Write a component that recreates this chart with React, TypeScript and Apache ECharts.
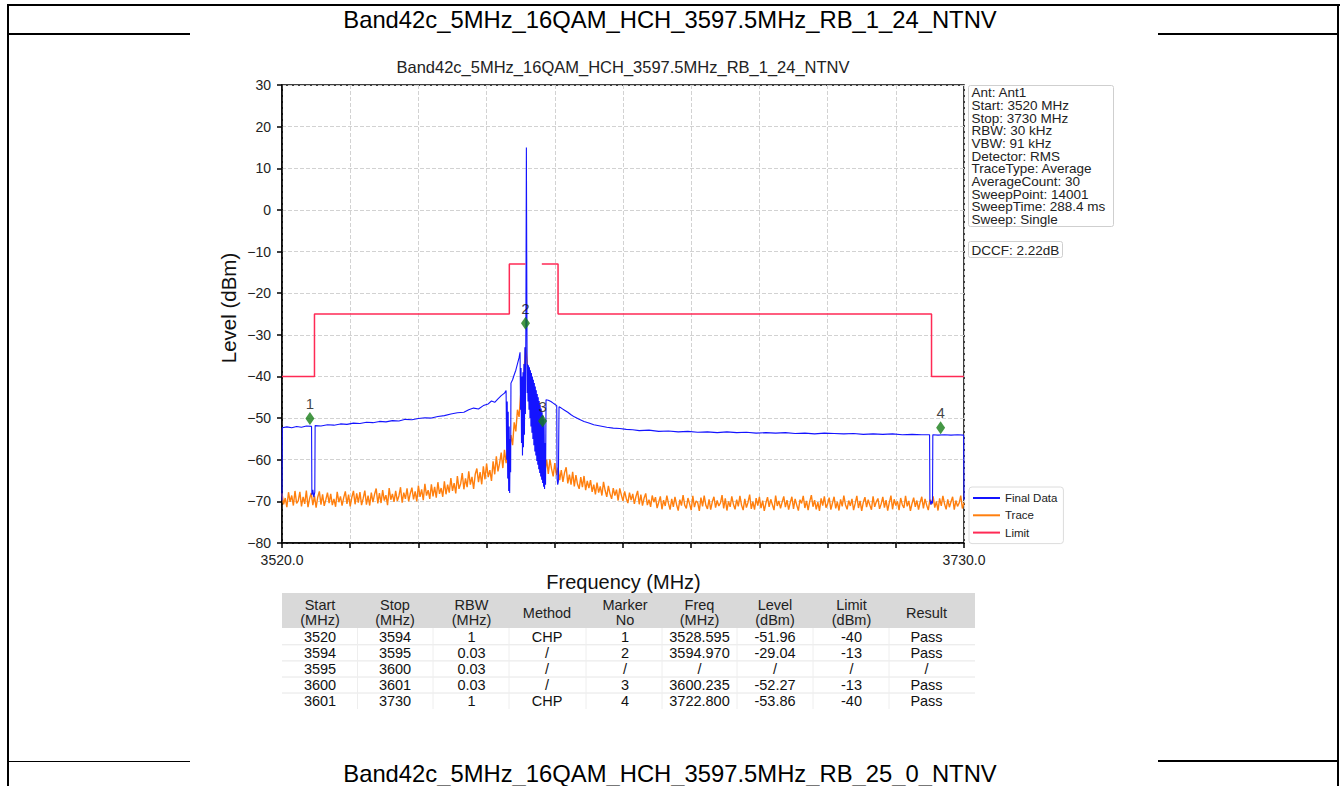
import React, { useEffect, useRef } from "react";
import * as echarts from "echarts";

const FONT = '"Liberation Sans", Arial, Helvetica, sans-serif';

// ---------- texts ----------
const pageTitle = "Band42c_5MHz_16QAM_HCH_3597.5MHz_RB_1_24_NTNV";
const nextTitle = "Band42c_5MHz_16QAM_HCH_3597.5MHz_RB_25_0_NTNV";
const chartTitle = "Band42c_5MHz_16QAM_HCH_3597.5MHz_RB_1_24_NTNV";
const yAxisName = "Level (dBm)";
const xAxisName = "Frequency (MHz)";
const infoLines = [
  "Ant: Ant1",
  "Start: 3520 MHz",
  "Stop: 3730 MHz",
  "RBW: 30 kHz",
  "VBW: 91 kHz",
  "Detector: RMS",
  "TraceType: Average",
  "AverageCount: 30",
  "SweepPoint: 14001",
  "SweepTime: 288.4 ms",
  "Sweep: Single",
];
const dccfText = "DCCF: 2.22dB";
const seriesNames = ["Final Data", "Trace", "Limit"];

// ---------- axes ----------
const yMin = -80;
const yMax = 30;
const yStep = 10;
const fStart = 3520;
const fStop = 3730;
const xTickLabels = ["3520.0", "", "", "", "", "", "", "", "", "", "3730.0"];

// ---------- trace (orange), 0.5 MHz spacing from 3520 ----------
const traceStart = 3520;
const traceStep = 0.5;
const traceLevel = [
  -68.1, -70.7, -69.2, -71.4, -67.8, -70.1, -68.6, -71.0, -67.5, -70.5,
  -69.9, -67.7, -71.2, -68.9, -70.6, -67.4, -71.4, -69.3, -68.0, -70.9,
  -68.7, -71.5, -69.0, -67.6, -70.8, -68.3, -71.1, -69.6, -67.9, -70.4,
  -68.2, -70.9, -69.4, -71.3, -67.7, -70.2, -68.8, -71.0, -69.1, -67.6,
  -70.6, -68.4, -71.2, -69.0, -67.5, -70.7, -68.1, -70.3, -67.8, -70.9,
  -69.3, -67.4, -70.8, -68.6, -71.0, -67.9, -70.2, -68.3, -66.9, -70.5,
  -68.0, -70.4, -67.3, -69.8, -68.5, -70.9, -66.8, -69.6, -68.2, -70.1,
  -67.5, -69.9, -68.7, -66.6, -70.3, -67.9, -69.4, -66.9, -70.0, -68.1,
  -66.7, -69.5, -67.6, -70.0, -66.2, -68.9, -67.1, -69.7, -65.8, -68.6,
  -67.3, -69.4, -65.9, -68.8, -66.5, -69.1, -65.4, -68.2, -66.8, -68.9,
  -65.2, -68.3, -66.0, -67.9, -64.4, -67.5, -65.6, -68.1, -63.9, -67.0,
  -65.8, -63.2, -67.1, -64.5, -66.6, -62.8, -66.0, -64.1, -67.0, -63.5,
  -62.1, -65.4, -63.0, -65.9, -61.6, -64.7, -60.9, -64.2, -62.5, -65.1,
  -60.4, -63.5, -59.2, -62.8, -60.9, -58.3, -62.0, -57.6, -60.8, -56.9,
  -58.6, -54.1, -56.5, -51.0, -53.2, -48.0, -49.7, -44.3, -45.5, -39.0,
  -33.0, -36.5, -43.5, -46.0, -51.5, -50.0, -55.8, -54.2, -58.9, -57.0,
  -61.3, -58.7, -62.6, -60.0, -63.4, -59.9, -62.2, -64.0, -60.8, -63.7,
  -61.9, -64.9, -62.5, -65.3, -63.1, -61.8, -65.7, -63.6, -66.0, -62.9,
  -66.4, -63.7, -65.9, -67.0, -64.2, -66.6, -63.9, -67.3, -65.1, -66.8,
  -64.9, -67.7, -66.0, -68.3, -65.5, -67.9, -66.4, -68.6, -65.3, -67.4,
  -68.9, -66.3, -68.2, -69.4, -66.8, -68.6, -67.2, -69.8, -66.9, -68.5,
  -69.9, -67.6, -69.3, -70.4, -67.9, -69.7, -68.2, -70.6, -68.8, -67.5,
  -70.7, -68.4, -71.0, -69.2, -68.1, -70.9, -69.6, -71.3, -68.6, -70.2,
  -69.0, -71.6, -70.2, -68.8, -71.9, -69.7, -71.1, -68.6, -70.5, -72.0,
  -69.4, -71.3, -68.9, -70.8, -72.2, -69.6, -71.0, -68.5, -70.9, -71.7,
  -69.2, -70.6, -72.1, -68.7, -71.4, -69.9, -70.3, -72.3, -69.1, -71.2,
  -68.6, -70.9, -71.8, -69.5, -72.0, -70.1, -68.9, -71.5, -69.8, -71.1,
  -70.4, -68.5, -71.7, -69.3, -72.2, -70.0, -71.3, -68.8, -70.7, -71.9,
  -69.6, -71.2, -68.7, -70.9, -72.1, -69.4, -71.5, -70.2, -68.4, -71.8,
  -70.1, -72.0, -69.2, -71.0, -68.9, -71.6, -69.8, -72.3, -70.4, -69.0,
  -71.3, -69.5, -70.8, -72.1, -68.6, -71.1, -69.9, -71.7, -70.2, -68.8,
  -71.4, -69.7, -72.0, -70.3, -68.9, -71.8, -69.4, -70.9, -72.2, -69.6,
  -70.5, -68.7, -71.6, -69.9, -72.1, -70.0, -68.5, -71.3, -69.7, -71.9,
  -70.2, -72.3, -69.3, -71.0, -68.8, -71.5, -70.6, -69.1, -72.0, -70.4,
  -68.9, -71.7, -70.1, -72.2, -69.5, -71.2, -68.6, -70.8, -71.9, -69.8,
  -71.1, -69.4, -72.1, -70.5, -68.7, -71.6, -69.9, -72.3, -70.2, -69.0,
  -71.4, -69.6, -70.9, -72.0, -68.8, -71.3, -70.1, -69.3, -71.8, -70.6,
  -68.9, -71.5, -69.7, -72.2, -70.3, -68.6, -71.9, -69.5, -71.0, -70.0,
  -72.1, -69.2, -70.8, -71.6, -68.7, -71.2, -69.9, -72.3, -70.5, -69.1,
  -71.3, -69.8, -72.0, -70.2, -68.9, -71.7, -69.4, -70.9, -72.1, -69.6,
  -70.7, -68.8, -71.5, -70.0, -72.2, -69.3, -71.1, -68.7, -70.6, -71.9,
  -69.5, -71.4, -70.1, -68.9, -72.0, -69.8, -71.2, -70.4, -68.6, -71.7,
  -70.3,
];

// ---------- final data (blue): [MHz, dBm] ----------
const finalData: [number, number][] = [
  [3520.0, -69.8], [3520.1, -52.3], [3521.5, -52.1], [3523.0, -52.3], [3524.5, -52.0],
  [3526.0, -52.2], [3527.5, -51.9], [3529.1, -52.0], [3529.2, -68.5], [3529.5, -67.2],
  [3529.8, -69.0], [3530.1, -67.8], [3530.2, -51.8], [3532.0, -51.9], [3534.0, -51.6],
  [3536.0, -51.7], [3538.0, -51.4], [3540.0, -51.5], [3542.0, -51.2], [3544.0, -51.3],
  [3546.0, -51.0], [3548.0, -51.1], [3550.0, -50.8], [3552.0, -50.9], [3554.0, -50.6],
  [3556.0, -50.7], [3558.0, -50.3], [3560.0, -50.4], [3562.0, -50.1], [3564.0, -49.9],
  [3566.0, -50.0], [3568.0, -49.6], [3570.0, -49.4], [3572.0, -49.0], [3574.0, -48.7],
  [3576.0, -48.6], [3577.5, -48.0], [3579.0, -47.6], [3580.5, -47.8], [3582.0, -47.0],
  [3583.5, -46.6], [3584.5, -45.9], [3585.5, -46.2], [3586.5, -45.4], [3587.5, -44.6],
  [3588.5, -44.0], [3589.0, -43.4],
  [3589.2, -60.0], [3589.35, -46.0], [3589.5, -64.5], [3589.65, -48.5], [3589.8, -67.5],
  [3589.95, -52.0], [3590.1, -68.0], [3590.25, -55.0], [3590.4, -63.0], [3590.5, -41.6],
  [3591.0, -40.8], [3591.5, -39.6], [3592.0, -38.5], [3592.5, -37.0], [3593.0, -35.5],
  [3593.3, -34.2], [3593.45, -48.0], [3593.6, -38.0], [3593.75, -56.0], [3593.9, -40.0],
  [3594.05, -59.0], [3594.2, -39.0], [3594.35, -57.0], [3594.5, -37.0], [3594.65, -54.0],
  [3594.8, -33.0], [3594.95, -49.0], [3595.1, -27.0], [3595.25, 15.0], [3595.4, -22.0],
  [3595.5, -44.0],
  [3595.6, -37.0], [3595.75, -46.0], [3595.9, -37.3], [3596.05, -48.0], [3596.2, -37.8],
  [3596.35, -50.0], [3596.5, -38.5], [3596.65, -52.0], [3596.8, -39.2], [3596.95, -53.5],
  [3597.1, -40.0], [3597.25, -55.0], [3597.4, -40.8], [3597.55, -56.5], [3597.7, -41.6],
  [3597.85, -58.0], [3598.0, -42.4], [3598.15, -59.0], [3598.3, -43.3], [3598.45, -60.3],
  [3598.6, -44.2], [3598.75, -61.2], [3598.9, -45.0], [3599.05, -62.3], [3599.2, -45.9],
  [3599.35, -63.2], [3599.5, -46.8], [3599.65, -64.0], [3599.8, -47.7], [3599.95, -64.8],
  [3600.1, -48.6], [3600.25, -65.6], [3600.4, -49.4], [3600.55, -66.5], [3600.7, -50.2],
  [3600.85, -67.0], [3601.0, -56.0], [3601.15, -66.0], [3601.3, -45.6],
  [3602.0, -45.7], [3602.8, -46.0], [3603.5, -46.4], [3604.2, -46.8], [3604.6, -47.0],
  [3604.7, -64.5], [3604.9, -66.0], [3605.1, -65.2], [3605.3, -47.3], [3606.0, -47.6],
  [3607.0, -48.1], [3608.0, -48.6], [3609.0, -49.2], [3610.0, -49.7], [3611.5, -50.3],
  [3613.0, -50.8], [3614.5, -51.2], [3616.0, -51.6], [3618.0, -51.9], [3620.0, -52.2],
  [3622.0, -52.4], [3624.0, -52.5], [3626.0, -52.7], [3628.0, -52.8], [3630.0, -53.0],
  [3633.0, -52.9], [3636.0, -53.2], [3639.0, -53.1], [3642.0, -53.3], [3645.0, -53.2],
  [3648.0, -53.4], [3651.0, -53.3], [3654.0, -53.5], [3657.0, -53.3], [3660.0, -53.5],
  [3663.0, -53.4], [3666.0, -53.6], [3669.0, -53.5], [3672.0, -53.6], [3675.0, -53.5],
  [3678.0, -53.7], [3681.0, -53.6], [3684.0, -53.8], [3687.0, -53.6], [3690.0, -53.7],
  [3693.0, -53.8], [3696.0, -53.7], [3699.0, -53.9], [3702.0, -53.8], [3705.0, -53.9],
  [3708.0, -53.8], [3711.0, -54.0], [3714.0, -53.9], [3717.0, -54.0], [3719.4, -54.0],
  [3719.5, -69.5], [3719.8, -70.8], [3720.1, -69.9], [3720.3, -70.5], [3720.4, -54.0],
  [3722.0, -54.1], [3724.0, -54.0], [3726.0, -54.1], [3728.0, -54.0], [3729.9, -54.1],
  [3730.0, -69.7],
];

// ---------- limit (red) ----------
const limitFreq = [3520, 3530, 3530, 3590, 3590, 3595, 3597.5, 3600, 3605, 3605, 3720, 3720, 3730];
const limitLevel: (number | null)[] = [-40, -40, -25, -25, -13, -13, null, -13, -13, -25, -25, -40, -40];

// ---------- markers ----------
const markerNo = ["1", "2", "3", "4"];
const markerFreq = [3528.595, 3594.97, 3600.235, 3722.8];
const markerLevel = [-50.1, -27.2, -50.7, -52.3];

// ---------- result table ----------
const tableHeader = ["Start\n(MHz)", "Stop\n(MHz)", "RBW\n(MHz)", "Method", "Marker\nNo", "Freq\n(MHz)", "Level\n(dBm)", "Limit\n(dBm)", "Result"];
const colStart = ["3520", "3594", "3595", "3600", "3601"];
const colStop = ["3594", "3595", "3600", "3601", "3730"];
const colRBW = ["1", "0.03", "0.03", "0.03", "1"];
const colMethod = ["CHP", "/", "/", "/", "CHP"];
const colMarker = ["1", "2", "/", "3", "4"];
const colFreq = ["3528.595", "3594.970", "/", "3600.235", "3722.800"];
const colLevel = ["-51.96", "-29.04", "/", "-52.27", "-53.86"];
const colLimit = ["-40", "-13", "/", "-13", "-40"];
const colResult = ["Pass", "Pass", "/", "Pass", "Pass"];

// document frame segments drawn as page rules: [left, top, width, height]
const frameRules: [number, number, number, number][] = [
  [7, 4, 1333, 2],
  [7, 4, 2, 782],
  [1337, 4, 2, 782],
  [7, 32.5, 183, 2],
  [1158, 32.5, 181, 2],
  [7, 760.5, 183, 1.2],
  [1158, 760, 181, 2],
];

function buildGraphics() {
  const g: any[] = [];

  g.push({ type: "text", silent: true, x: 670, y: 19, style: { text: pageTitle, font: `23.8px ${FONT}`, fill: "#000", textAlign: "center", textVerticalAlign: "middle" } });
  g.push({ type: "text", silent: true, x: 670, y: 773, style: { text: nextTitle, font: `23.8px ${FONT}`, fill: "#000", textAlign: "center", textVerticalAlign: "middle" } });

  // chart title & axis names
  g.push({ type: "text", silent: true, x: 623, y: 67, style: { text: chartTitle, font: `16.5px ${FONT}`, fill: "#222", textAlign: "center", textVerticalAlign: "middle" } });
  g.push({ type: "text", silent: true, x: 623.5, y: 582, style: { text: xAxisName, font: `20px ${FONT}`, fill: "#111", textAlign: "center", textVerticalAlign: "middle" } });
  g.push({ type: "text", silent: true, x: 228, y: 308, rotation: Math.PI / 2, style: { text: yAxisName, font: `20.5px ${FONT}`, fill: "#111", textAlign: "center", textVerticalAlign: "middle" } });

  // info box
  g.push({ type: "rect", silent: true, shape: { x: 968.5, y: 85.5, width: 145, height: 141, r: 2 }, style: { fill: "#fff", stroke: "#cfcfcf", lineWidth: 1 } });
  g.push({ type: "text", silent: true, x: 971.5, y: 86.3, style: { text: infoLines.join("\n"), font: `13.5px ${FONT}`, lineHeight: 12.7, fill: "#222", textAlign: "left", textVerticalAlign: "top" } });
  g.push({ type: "rect", silent: true, shape: { x: 968.5, y: 241.5, width: 94, height: 16, r: 2 }, style: { fill: "#fff", stroke: "#cfcfcf", lineWidth: 1 } });
  g.push({ type: "text", silent: true, x: 971.5, y: 250, style: { text: dccfText, font: `13.5px ${FONT}`, fill: "#222", textAlign: "left", textVerticalAlign: "middle" } });

  // table
  const colX = [320, 395, 471.5, 547, 625, 699.5, 775, 851.5, 926.5];
  const rowY = [636.7, 652.7, 669, 685, 701];
  g.push({ type: "rect", silent: true, shape: { x: 282, y: 593, width: 693, height: 35 }, style: { fill: "#d9d9d9" } });
  [644.8, 660.9, 677, 693].forEach((y) => g.push({ type: "line", silent: true, shape: { x1: 282, y1: y, x2: 975, y2: y }, style: { stroke: "#e6e6e6", lineWidth: 1 } }));
  [357.5, 433, 509, 586, 662, 737, 813, 889].forEach((x) => g.push({ type: "line", silent: true, shape: { x1: x, y1: 628, x2: x, y2: 709 }, style: { stroke: "#eeeeee", lineWidth: 1 } }));
  tableHeader.forEach((h, i) => {
    g.push({ type: "text", silent: true, x: colX[i], y: 612.5, style: { text: h, font: `14.5px ${FONT}`, lineHeight: 15, fill: "#222", textAlign: "center", textVerticalAlign: "middle" } });
  });
  const cols = [colStart, colStop, colRBW, colMethod, colMarker, colFreq, colLevel, colLimit, colResult];
  cols.forEach((col, ci) =>
    col.forEach((v, ri) => {
      g.push({ type: "text", silent: true, x: colX[ci], y: rowY[ri], style: { text: v, font: `14.5px ${FONT}`, fill: "#111", textAlign: "center", textVerticalAlign: "middle" } });
    })
  );
  return g;
}

export default function App() {
  const ref = useRef<HTMLDivElement>(null);
  useEffect(() => {
    if (!ref.current) return;
    const chart = echarts.init(ref.current, undefined, { renderer: "svg" });
    const traceData = traceLevel.map((v, i) => [traceStart + i * traceStep, v]);
    const limitData = limitFreq.map((f, i) => [f, limitLevel[i] === null ? "-" : limitLevel[i]]);
    const markerData = markerFreq.map((f, i) => ({ value: [f, markerLevel[i]], name: markerNo[i] }));

    const option: any = {
      animation: false,
      backgroundColor: "transparent",
      textStyle: { fontFamily: FONT },
      grid: { left: 282, top: 85, width: 682, height: 458, show: true, borderColor: "#000", borderWidth: 1.5, backgroundColor: "transparent" },
      legend: {
        data: seriesNames,
        orient: "vertical",
        left: 969,
        top: 487,
        icon: "rect",
        itemWidth: 27,
        itemHeight: 2,
        itemGap: 3.3,
        padding: [4, 6, 4, 4],
        backgroundColor: "#fff",
        borderColor: "#dcdcdc",
        borderWidth: 1,
        borderRadius: 3,
        textStyle: { fontFamily: FONT, fontSize: 11.5, lineHeight: 14, color: "#222" },
      },
      xAxis: [
        { type: "value", min: fStart, max: fStop, show: false, splitLine: { show: false } },
        {
          type: "value",
          min: 0,
          max: xTickLabels.length - 1,
          interval: 1,
          position: "bottom",
          axisLine: { show: true, lineStyle: { color: "#000", width: 1.5 } },
          axisTick: { show: true, length: 5, lineStyle: { color: "#000", width: 1.5 } },
          axisLabel: { margin: 10, fontSize: 14, color: "#222", fontFamily: FONT, formatter: (v: number) => xTickLabels[Math.round(v)] ?? "" },
          splitLine: { show: true, lineStyle: { color: "#d2d2d2", width: 1, type: [4, 2] } },
        },
      ],
      yAxis: {
        type: "value",
        min: yMin,
        max: yMax,
        interval: yStep,
        axisLine: { show: true, lineStyle: { color: "#000", width: 1.5 } },
        axisTick: { show: true, length: 5, lineStyle: { color: "#000", width: 1.5 } },
        axisLabel: { margin: 11, fontSize: 14, color: "#222", fontFamily: FONT, formatter: (v: number) => String(v).replace("-", "\u2212") },
        splitLine: { show: true, lineStyle: { color: "#d2d2d2", width: 1, type: [4, 2] } },
      },
      series: [
        { name: "Trace", type: "line", xAxisIndex: 0, data: traceData, showSymbol: false, symbol: "none", lineStyle: { color: "#ff7f0e", width: 1.4 }, itemStyle: { color: "#ff7f0e" }, z: 2 },
        { name: "Final Data", type: "line", xAxisIndex: 0, data: finalData, showSymbol: false, symbol: "none", lineStyle: { color: "#1414ff", width: 1.1 }, itemStyle: { color: "#1414ff" }, z: 3 },
        { name: "Limit", type: "line", xAxisIndex: 0, data: limitData, connectNulls: false, showSymbol: false, symbol: "none", lineStyle: { color: "#ff2a55", width: 1.5 }, itemStyle: { color: "#ff2a55" }, z: 4 },
        {
          name: "Markers",
          type: "scatter",
          xAxisIndex: 0,
          data: markerData,
          symbol: "diamond",
          symbolSize: [9, 13],
          itemStyle: { color: "#167d16" },
          label: { show: true, position: "top", distance: 1, formatter: (p: any) => p.name, fontSize: 15, color: "#111", fontFamily: FONT },
          z: 5,
        },
      ],
      graphic: buildGraphics(),
    };
    chart.setOption(option);
    return () => chart.dispose();
  }, []);
  return (
    <div style={{ position: "absolute", left: 0, top: 0, width: 1340, height: 786, background: "#fff", overflow: "hidden" }}>
      <div ref={ref} style={{ position: "absolute", left: 0, top: 0, width: 1340, height: 786 }} />
      {frameRules.map(([l, t, w, h], i) => (
        <div key={i} style={{ position: "absolute", left: l, top: t, width: w, height: h, background: "#000", zIndex: 5, pointerEvents: "none" }} />
      ))}
    </div>
  );
}
